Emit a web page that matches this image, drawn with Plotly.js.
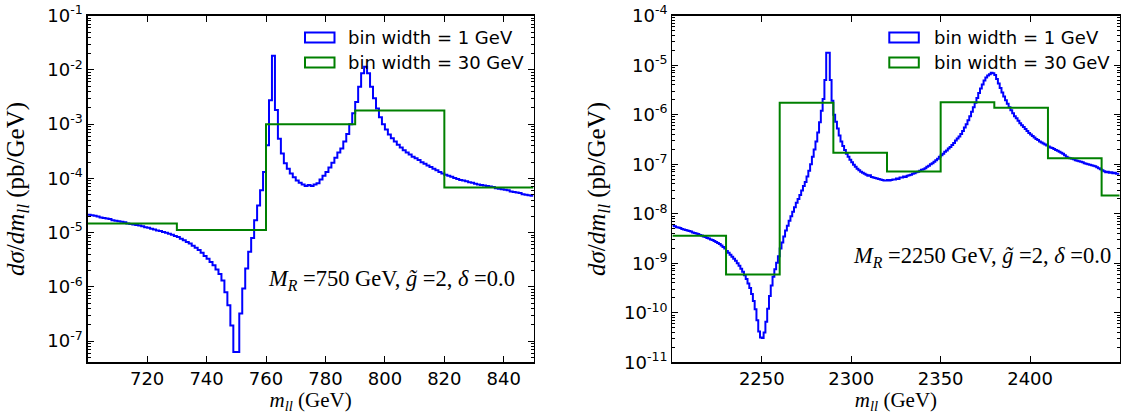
<!DOCTYPE html>
<html><head><meta charset="utf-8">
<script src="https://cdn.plot.ly/plotly-3.0.1.min.js"></script>
<style>html,body{margin:0;padding:0;background:#fff}#chart{width:1124px;height:414px}</style>
</head><body><div id="chart"></div>
<script>
const W = 1124, H = 414;

// ---------- Left panel: M_R = 750 GeV ----------
const leftFineStart = 700;   // first bin edge (GeV), bin width 1 GeV
const leftFineLog10 = [
 -4.67,-4.68,-4.69,-4.70,-4.72,-4.73,-4.74,-4.75,-4.77,-4.78,
 -4.79,-4.80,-4.81,-4.83,-4.84,-4.85,-4.86,-4.87,-4.88,-4.90,
 -4.91,-4.93,-4.94,-4.96,-4.97,-4.99,-5.00,-5.02,-5.04,-5.06,
 -5.08,-5.11,-5.14,-5.17,-5.20,-5.24,-5.28,-5.32,-5.37,-5.43,
 -5.48,-5.54,-5.60,-5.68,-5.76,-5.88,-6.10,-6.34,-6.71,-7.20,
 -7.20,-6.49,-6.03,-5.66,-5.35,-5.10,-4.77,-4.50,-4.22,-3.88,
 -3.39,-2.56,-1.74,-2.74,-3.27,-3.54,-3.72,-3.82,-3.91,-3.98,
 -4.04,-4.08,-4.11,-4.14,-4.12,-4.14,-4.11,-4.09,-4.02,-3.95,
 -3.88,-3.80,-3.71,-3.62,-3.52,-3.45,-3.32,-3.18,-3.00,-2.80,
 -2.59,-2.31,-2.06,-1.94,-2.06,-2.31,-2.52,-2.71,-2.87,-3.00,
 -3.10,-3.19,-3.26,-3.32,-3.38,-3.43,-3.48,-3.52,-3.56,-3.60,
 -3.63,-3.66,-3.70,-3.73,-3.76,-3.79,-3.82,-3.85,-3.88,-3.91,
 -3.93,-3.95,-3.97,-3.99,-4.01,-4.03,-4.04,-4.05,-4.07,-4.08,
 -4.10,-4.11,-4.12,-4.13,-4.14,-4.15,-4.16,-4.18,-4.19,-4.20,
 -4.21,-4.22,-4.24,-4.25,-4.26,-4.27,-4.29,-4.30,-4.31,-4.32
];
const leftCoarseEdges  = [700, 730, 760, 790, 820, 850];
const leftCoarseValues = [1.48e-5, 1.12e-5, 1.0e-3, 1.78e-3, 6.8e-5];
const leftXTicks = [720, 740, 760, 780, 800, 820, 840];
const leftYExp = [-7, -6, -5, -4, -3, -2, -1];

// ---------- Right panel: M_R = 2250 GeV ----------
const rightFineStart = 2200;  // bin width 1 GeV
const rightFineLog10 = [
 -8.24,-8.25,-8.27,-8.28,-8.29,-8.31,-8.32,-8.33,-8.34,-8.35,
 -8.36,-8.38,-8.39,-8.40,-8.41,-8.43,-8.44,-8.46,-8.47,-8.49,
 -8.50,-8.52,-8.53,-8.55,-8.57,-8.59,-8.61,-8.64,-8.67,-8.70,
 -8.75,-8.79,-8.83,-8.87,-8.91,-8.95,-9.00,-9.05,-9.11,-9.17,
 -9.24,-9.32,-9.41,-9.50,-9.62,-9.76,-9.93,-10.15,-10.38,-10.50,
 -10.51,-10.40,-10.18,-9.92,-9.66,-9.45,-9.27,-9.12,-8.99,-8.86,
 -8.70,-8.58,-8.46,-8.34,-8.24,-8.14,-8.05,-7.96,-7.87,-7.78,
 -7.70,-7.62,-7.53,-7.44,-7.36,-7.25,-7.13,-7.00,-6.85,-6.70,
 -6.54,-6.36,-6.15,-5.92,-5.68,-5.30,-4.75,-4.75,-5.30,-5.72,
 -6.00,-6.14,-6.28,-6.42,-6.54,-6.63,-6.71,-6.79,-6.85,-6.91,
 -6.96,-7.01,-7.05,-7.09,-7.12,-7.15,-7.17,-7.19,-7.21,-7.23,
 -7.22,-7.26,-7.27,-7.28,-7.29,-7.30,-7.31,-7.32,-7.33,-7.33,
 -7.32,-7.33,-7.32,-7.31,-7.31,-7.29,-7.30,-7.27,-7.27,-7.25,
 -7.26,-7.23,-7.22,-7.21,-7.19,-7.18,-7.16,-7.15,-7.13,-7.11,
 -7.10,-7.08,-7.05,-7.03,-7.00,-6.98,-6.95,-6.92,-6.89,-6.85,
 -6.82,-6.79,-6.75,-6.72,-6.68,-6.65,-6.61,-6.57,-6.52,-6.48,
 -6.44,-6.39,-6.33,-6.26,-6.19,-6.11,-6.03,-5.94,-5.85,-5.76,
 -5.66,-5.56,-5.47,-5.39,-5.31,-5.25,-5.21,-5.18,-5.15,-5.16,
 -5.20,-5.28,-5.37,-5.46,-5.55,-5.63,-5.71,-5.78,-5.85,-5.91,
 -5.97,-6.03,-6.07,-6.12,-6.17,-6.21,-6.25,-6.29,-6.33,-6.37,
 -6.40,-6.43,-6.46,-6.49,-6.51,-6.54,-6.56,-6.58,-6.60,-6.62,
 -6.64,-6.66,-6.67,-6.69,-6.71,-6.73,-6.75,-6.77,-6.79,-6.82,
 -6.85,-6.87,-6.88,-6.89,-6.90,-6.92,-6.93,-6.94,-6.95,-6.96,
 -6.98,-6.99,-7.00,-7.01,-7.02,-7.03,-7.04,-7.06,-7.08,-7.10,
 -7.12,-7.14,-7.16,-7.15,-7.17,-7.16,-7.18,-7.17,-7.19,-7.19
];
const rightCoarseEdges  = [2200, 2230, 2260, 2290, 2320, 2350, 2380, 2410, 2440, 2470];
const rightCoarseValues = [3.6e-9, 5.9e-10, 1.74e-6, 1.7e-7, 7.1e-8, 1.78e-6, 1.38e-6, 1.32e-7, 2.34e-8];
const rightXTicks = [2250, 2300, 2350, 2400];
const rightYExp = [-11, -10, -9, -8, -7, -6, -5, -4];

const legendLabels = ['bin width = 1 GeV', 'bin width = 30 GeV'];
const seriesColors = ['#0000ff', '#008000'];

// ---------- helpers ----------
function fineStep(start, logs) {
  const x = [], y = [];
  for (let i = 0; i <= logs.length; i++) {
    x.push(start + i);
    y.push(Math.pow(10, logs[Math.min(i, logs.length - 1)]));
  }
  return {x, y};
}
function coarseStep(edges, vals) {
  return {x: edges.slice(), y: vals.concat([vals[vals.length - 1]])};
}
function minorVals(e0, e1) {
  const v = [];
  for (let e = e0; e < e1; e++) for (let d = 2; d <= 9; d++) v.push(d * Math.pow(10, e));
  return v;
}
const px = x => x / W, py = y => 1 - y / H;

const lf = fineStep(leftFineStart, leftFineLog10);
const lc = coarseStep(leftCoarseEdges, leftCoarseValues);
const rf = fineStep(rightFineStart, rightFineLog10);
const rc = coarseStep(rightCoarseEdges, rightCoarseValues);

const traces = [
  {x: lf.x, y: lf.y, xaxis: 'x', yaxis: 'y'},
  {x: lc.x, y: lc.y, xaxis: 'x', yaxis: 'y'},
  {x: rf.x, y: rf.y, xaxis: 'x2', yaxis: 'y2'},
  {x: rc.x, y: rc.y, xaxis: 'x2', yaxis: 'y2'}
].map((t, i) => Object.assign(t, {
  type: 'scatter', mode: 'lines', showlegend: false, hoverinfo: 'skip',
  line: {shape: 'hv', color: seriesColors[i % 2], width: 2}
}));

const tickFont = {family: 'DejaVu Sans', size: 18, color: '#000'};
const mathFont = {family: 'Liberation Serif', size: 21, color: '#000'};
const yTitleFont = {family: 'Liberation Serif', size: 25, color: '#000'};
const noteFont = {family: 'Liberation Serif', size: 22.5, color: '#000'};
const xTitle = '<i>m</i><sub><i>ll</i></sub> (GeV)';
const yTitle = '<i>d\u03c3</i>/<i>dm</i><sub><i>ll</i></sub> (pb/GeV)';

function xAxis(dom, range, ticks, anchor) {
  return {domain: dom, range: range, anchor: anchor, tickmode: 'array', tickvals: ticks,
    ticktext: ticks.map(String), ticks: 'inside', ticklen: 6, tickwidth: 1, tickcolor: '#000',
    showline: true, mirror: 'ticks', linecolor: '#000', linewidth: 1.3,
    showgrid: false, zeroline: false, tickfont: tickFont,
    title: {text: xTitle, font: mathFont, standoff: 6}};
}
function yAxis(dom, range, exps, anchor, standoff) {
  return {domain: dom, type: 'log', range: range, anchor: anchor, tickmode: 'array',
    tickvals: exps.map(e => Math.pow(10, e)),
    ticktext: exps.map(e => '10<sup>' + e + '</sup>'),
    ticks: 'inside', ticklen: 6, tickwidth: 1, tickcolor: '#000',
    minor: {tickmode: 'array', tickvals: minorVals(exps[0] - 1, exps[exps.length - 1] + 1),
            ticks: 'inside', ticklen: 3, tickwidth: 1, tickcolor: '#000', showgrid: false},
    showline: true, mirror: 'ticks', linecolor: '#000', linewidth: 1.3,
    showgrid: false, zeroline: false, tickfont: tickFont,
    title: {text: yTitle, font: yTitleFont, standoff: standoff}};
}

const yDom = [py(362.3), py(15.7)];
const layout = {
  width: W, height: H, margin: {l: 0, r: 0, t: 0, b: 0},
  paper_bgcolor: '#fff', plot_bgcolor: '#fff', showlegend: false,
  xaxis: xAxis([px(87.7), px(533.5)], [700, 850], leftXTicks, 'y'),
  yaxis: yAxis(yDom, [-7.39, -1], leftYExp, 'x', 15),
  xaxis2: xAxis([px(672.4), px(1119.5)], [2200, 2450], rightXTicks, 'y2'),
  yaxis2: yAxis(yDom, [-11, -4], rightYExp, 'x2', 11),
  shapes: [], annotations: []
};

// legends (patch outlines + labels)
[[305, 346], [889.3, 931.7]].forEach(([x0, tx]) => {
  [[32.5, 42.5], [57.5, 67.5]].forEach(([y0, y1], k) => {
    layout.shapes.push({type: 'rect', xref: 'paper', yref: 'paper',
      x0: px(x0), x1: px(x0 + 29.5), y0: py(y1), y1: py(y0),
      line: {color: seriesColors[k], width: 2}, fillcolor: 'rgba(0,0,0,0)'});
    layout.annotations.push({xref: 'paper', yref: 'paper', x: px(tx), y: py((y0 + y1) / 2),
      xanchor: 'left', yanchor: 'middle', showarrow: false, text: legendLabels[k],
      font: {family: 'DejaVu Sans', size: 18, color: '#000'}});
  });
});

// parameter labels
layout.annotations.push({xref: 'x domain', yref: 'y domain', x: 0.963, y: 0.2375,
  xanchor: 'right', yanchor: 'middle', showarrow: false,
  text: '<i>M</i><sub><i>R</i></sub> =750 GeV, <i>g\u0303</i> =2, <i>\u03b4</i> =0.0', font: noteFont});
layout.annotations.push({xref: 'x2 domain', yref: 'y2 domain', x: 0.985, y: 0.304,
  xanchor: 'right', yanchor: 'middle', showarrow: false,
  text: '<i>M</i><sub><i>R</i></sub> =2250 GeV, <i>g\u0303</i> =2, <i>\u03b4</i> =0.0', font: noteFont});

Plotly.newPlot('chart', traces, layout, {staticPlot: true, displayModeBar: false});
</script>
</body></html>
